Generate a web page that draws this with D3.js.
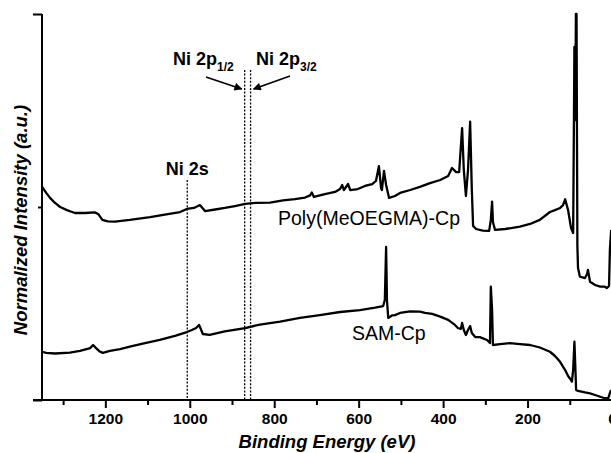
<!DOCTYPE html>
<html><head><meta charset="utf-8">
<script src="https://cdn.jsdelivr.net/npm/d3@7"></script>
<style>
body{margin:0;background:#fff}
svg{display:block}
text{font-family:"Liberation Sans",Arial,Helvetica,sans-serif;fill:#000}
</style>
</head><body>
<svg id="chart" width="611" height="453"></svg>
<script>
// ---- data (binding energy in eV, normalized intensity in a.u.) ----
const polyEnergy = [1350,1340,1331,1319,1307,1291,1272,1248,1225,1217,1207,1194,1177,1142,1094,1059,1023,1007,990,976,964,940,917,893,869,845,810,779,751,727,715,711,706,680,656,644,639,635,625,620,602,585,568,559,552,547,545,540,535,528,514,502,478,455,431,407,388,379,369,362,355,351,346,341,336,332,329,322,306,291,287,284,282,277,253,218,194,171,147,135,123,116,111,104,97,92,89,87,85.5,84,82,80.5,76,64,59,57,52,40,28,17,12,7,5,2];
const polyIntensity = [1.105,1.073,1.047,1.021,1.0,0.984,0.969,0.969,0.972,0.964,0.933,0.925,0.924,0.933,0.948,0.961,0.974,0.990,0.995,1.010,0.979,0.987,0.995,1.005,1.016,1.021,1.023,1.034,1.041,1.049,1.060,1.075,1.052,1.067,1.078,1.093,1.114,1.088,1.119,1.088,1.093,1.109,1.119,1.135,1.212,1.098,1.088,1.187,1.114,1.047,1.057,1.073,1.088,1.104,1.124,1.140,1.161,1.202,1.181,1.181,1.409,1.192,1.057,1.192,1.442,1.088,0.902,0.886,0.878,0.876,0.933,1.028,0.922,0.881,0.886,0.898,0.912,0.933,0.974,0.984,0.995,1.010,1.040,0.984,0.891,0.865,1.830,1.45,2.0,2.0,0.80,0.684,0.639,0.632,0.653,0.674,0.613,0.596,0.587,0.587,0.580,0.591,0.777,0.881];
const samEnergy = [1350,1340,1319,1284,1260,1236,1229,1222,1213,1206,1189,1165,1142,1106,1071,1035,1007,995,985,978,969,953,917,869,834,786,739,692,644,597,561,542,538,535,533,530,521,514,502,478,455,443,426,407,388,372,365,358,355,351,346,341,336,332,324,313,296,289,287,284,282,265,242,218,194,171,147,135,123,111,104,97,95,92,89,87,85,80.5,64,52,40,28,17,9,5,2];
const samIntensity = [0.250,0.244,0.241,0.245,0.254,0.269,0.285,0.269,0.251,0.244,0.254,0.264,0.276,0.295,0.311,0.332,0.352,0.363,0.373,0.389,0.342,0.337,0.355,0.373,0.391,0.406,0.425,0.440,0.456,0.466,0.479,0.487,0.518,0.793,0.518,0.425,0.438,0.440,0.451,0.459,0.458,0.451,0.446,0.432,0.415,0.389,0.373,0.368,0.399,0.363,0.337,0.363,0.383,0.347,0.326,0.326,0.311,0.295,0.587,0.466,0.285,0.290,0.295,0.290,0.285,0.272,0.250,0.228,0.198,0.155,0.124,0.104,0.095,0.155,0.302,0.181,0.052,0.047,0.039,0.034,0.026,0.017,0.009,0.008,0.036,0.052];
const seriesNames = ["Poly(MeOEGMA)-Cp","SAM-Cp"];
const xMajorTicks = [1200,1000,800,600,400,200,0];
const xMinorTicks = [1300,1100,900,700,500,300,100];
const yMajorTicks = [0,2];
const yMinorTicks = [1];
const niLineEnergies = [1006,870,856];
const niLabels = ["Ni 2s","Ni 2p","Ni 2p"];
const niSubscripts = ["","1/2","3/2"];
const xTitle = "Binding Energy (eV)";
const yTitle = "Normalized Intensity (a.u.)";

// ---- layout ----
const svg = d3.select("#chart");
const pL = 42, pR = 612, pT = 14, pB = 400;
const x = d3.scaleLinear().domain([1350,0]).range([pL,pR]);
const y = d3.scaleLinear().domain([0,2]).range([pB,pT]);

svg.append("defs").append("marker")
  .attr("id","ah").attr("viewBox","0 0 10 10").attr("refX",9).attr("refY",5)
  .attr("markerWidth",9).attr("markerHeight",8).attr("markerUnits","userSpaceOnUse")
  .attr("orient","auto")
  .append("path").attr("d","M0,0 L10,5 L0,10 Z").attr("fill","#000");

// dashed Ni reference lines
const lineTops = [180, 70, 70];
niLineEnergies.forEach((e,i)=>{
  svg.append("line").attr("x1",x(e)).attr("x2",x(e)).attr("y1",lineTops[i]).attr("y2",pB)
    .attr("stroke","#000").attr("stroke-width",1.3).attr("stroke-dasharray","2,1.6");
});

// spectra
const line = d3.line().x(d=>x(d[0])).y(d=>y(d[1]));
[[polyEnergy,polyIntensity],[samEnergy,samIntensity]].forEach(([en,it])=>{
  svg.append("path").datum(en.map((e,i)=>[e,it[i]]))
    .attr("d",line).attr("fill","none").attr("stroke","#000")
    .attr("stroke-width",2.3).attr("stroke-linejoin","round");
});

// x axis
const xAxis = svg.append("g").attr("transform",`translate(0,${pB})`);
xAxis.call(d3.axisBottom(x).tickValues(xMajorTicks).tickFormat(d3.format("d")).tickSize(8).tickSizeOuter(0).tickPadding(5));
xAxis.append("g").call(d3.axisBottom(x).tickValues(xMinorTicks).tickSize(5).tickFormat("").tickSizeOuter(0));
xAxis.selectAll(".domain").remove();
xAxis.selectAll("line").attr("stroke","#000").attr("stroke-width",2);
xAxis.selectAll("text").attr("font-size","15.5px").attr("font-weight","bold")
  .style("font-family",'"Liberation Sans",Arial,sans-serif');
svg.append("line").attr("x1",pL-9).attr("x2",pR+2).attr("y1",pB).attr("y2",pB)
  .attr("stroke","#000").attr("stroke-width",2);

// y axis
const yAxis = svg.append("g").attr("transform",`translate(${pL},0)`);
yAxis.call(d3.axisLeft(y).tickValues(yMajorTicks).tickSize(9).tickFormat("").tickSizeOuter(0));
yAxis.append("g").call(d3.axisLeft(y).tickValues(yMinorTicks).tickSize(4).tickFormat("").tickSizeOuter(0));
yAxis.selectAll(".domain").remove();
yAxis.selectAll("line").attr("stroke","#000").attr("stroke-width",2);
svg.append("line").attr("x1",pL).attr("x2",pL).attr("y1",pT).attr("y2",pB+1)
  .attr("stroke","#000").attr("stroke-width",2);

// axis titles
svg.append("text").attr("x",(pL+pR)/2).attr("y",448).attr("text-anchor","middle")
  .attr("font-size","18.5px").attr("font-weight","bold").attr("font-style","italic").text(xTitle);
svg.append("text").attr("transform","translate(27,220) rotate(-90)").attr("text-anchor","middle")
  .attr("font-size","18.5px").attr("font-weight","bold").attr("font-style","italic").text(yTitle);

// Ni labels
svg.append("text").attr("x",x(niLineEnergies[0])).attr("y",175).attr("text-anchor","middle")
  .attr("font-size","18px").attr("font-weight","bold").text(niLabels[0]);
[[1,173,65],[2,256,65]].forEach(([i,tx,ty])=>{
  const t = svg.append("text").attr("x",tx).attr("y",ty).attr("font-size","18px").attr("font-weight","bold");
  t.append("tspan").text(niLabels[i]);
  t.append("tspan").attr("dy",6).attr("font-size","12px").text(niSubscripts[i]);
});
// arrows
svg.append("line").attr("x1",206).attr("y1",77).attr("x2",x(niLineEnergies[1])-3).attr("y2",89)
  .attr("stroke","#000").attr("stroke-width",1.6).attr("marker-end","url(#ah)");
svg.append("line").attr("x1",290).attr("y1",76).attr("x2",x(niLineEnergies[2])+3).attr("y2",89)
  .attr("stroke","#000").attr("stroke-width",1.6).attr("marker-end","url(#ah)");

// series labels
svg.append("text").attr("x",278).attr("y",225).attr("font-size","19.5px").text(seriesNames[0]);
svg.append("text").attr("x",352).attr("y",340).attr("font-size","19.5px").text(seriesNames[1]);
</script>
</body></html>
